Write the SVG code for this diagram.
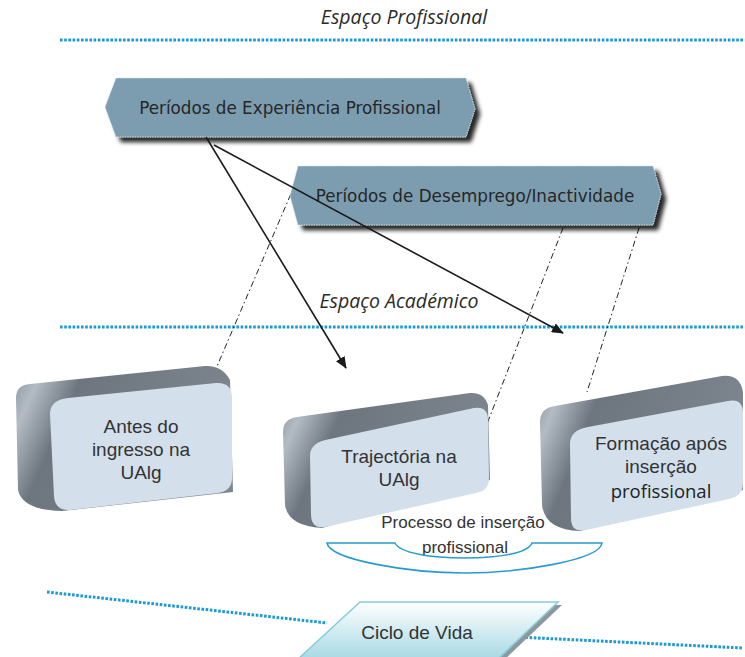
<svg xmlns="http://www.w3.org/2000/svg" width="745" height="657" viewBox="0 0 745 657">
<style>
.dot{fill:none;stroke:#1a9ad6;stroke-width:3;stroke-dasharray:2.6 1.6}
.hex{fill:#7b9db0;stroke:#d8e2e8;stroke-width:0.8;stroke-dasharray:1.5 1;filter:url(#sh)}
.hext{font-family:"DejaVu Sans",Verdana,sans-serif;font-size:16.8px;fill:#262626;text-anchor:middle}
.ital{font-family:"Open Sans",sans-serif;font-style:italic;font-size:19.5px;fill:#2a2a2a;text-anchor:middle}
.arr{stroke:#1a1a1a;stroke-width:1.6;fill:none;marker-end:url(#ah)}
.dd{stroke:#222;stroke-width:1;fill:none;stroke-dasharray:6 3 1.5 3}
.side{fill:url(#gray)}
.front{fill:#d3e0eb}
.bt{font-family:"Liberation Sans",Arial,sans-serif;font-size:19px;fill:#333;text-anchor:middle}
.bt2{font-family:"Open Sans",sans-serif;font-size:18.5px;fill:#222;text-anchor:middle}
.pt{font-family:"Liberation Sans",Arial,sans-serif;font-size:17px;fill:#333;text-anchor:middle}
</style>
<defs>
<filter id="sh" x="-10%" y="-30%" width="125%" height="170%">
<feDropShadow dx="5" dy="5" stdDeviation="2.2" flood-color="#000" flood-opacity="0.85"/>
</filter>
<linearGradient id="gray" x1="0" y1="0" x2="1" y2="0.3">
<stop offset="0" stop-color="#8a939b"/>
<stop offset="0.12" stop-color="#b3bcc4"/>
<stop offset="0.3" stop-color="#6d767f"/>
<stop offset="1" stop-color="#7d868e"/>
</linearGradient>
<linearGradient id="cyc" x1="0" y1="0" x2="0" y2="1">
<stop offset="0" stop-color="#ffffff"/>
<stop offset="1" stop-color="#a5d8e3"/>
</linearGradient>
<marker id="ah" viewBox="0 0 12 10" refX="11" refY="5" markerWidth="12" markerHeight="10" markerUnits="userSpaceOnUse" orient="auto">
<path d="M0,0 L12,5 L0,10 Z" fill="#1a1a1a"/>
</marker>
</defs>

<g id="labels">
<text class="ital" x="404" y="24">Espaço Profissional</text>
<line class="dot" x1="60" y1="40" x2="743" y2="40"/>
<text class="ital" x="399" y="308">Espaço Académico</text>
<line class="dot" x1="60" y1="327" x2="743" y2="327"/>
</g>

<g id="connectors">
<line class="dd" x1="296" y1="182" x2="212" y2="378"/>
<line class="dd" x1="563" y1="228" x2="487" y2="424"/>
<line class="dd" x1="639" y1="228" x2="587" y2="392"/>
</g>

<g id="exp">
<path class="hex" d="M105,107 L116,78 L466,78 L475,109 L466,137 L116,137 Z"/>
<text class="hext" x="290" y="114">Períodos de Experiência Profissional</text>
</g>

<g id="desemp">
<path class="hex" d="M290,196 L298,166 L653,166 L661,194 L653,225 L298,225 Z"/>
<text class="hext" x="475" y="202">Períodos de Desemprego/Inactividade</text>
</g>

<g id="arrows">
<line class="arr" x1="206" y1="137" x2="346" y2="368"/>
<line class="arr" x1="214" y1="145" x2="563" y2="333"/>
</g>

<g id="antes">
<path class="side" d="M16,398 Q16,385 30,384 L205,366 Q222,365 230,380 L233,492 L62,511 Q22,510 18,490 Z"/>
<path class="front" d="M68,398 L216,383 Q232,382 232,398 L232,478 Q232,491 218,493 L70,510 Q55,511 54,496 L50,414 Q50,400 68,398 Z"/>
<text class="bt" x="141" y="433">Antes do</text>
<text class="bt" x="141" y="456">ingresso na</text>
<text class="bt" x="141" y="479">UAlg</text>
</g>

<g id="traj">
<path class="side" d="M283,432 Q283,419 297,417 L470,393 Q484,392 488,405 L490,480 L322,528 Q288,526 285,505 Z"/>
<path class="front" d="M330,439 L474,408 Q488,406 488,420 L489,478 Q489,491 476,493 L325,527 Q311,529 311,514 L310,456 Q310,442 330,439 Z"/>
<text class="bt" x="399" y="463">Trajectória na</text>
<text class="bt" x="399" y="486">UAlg</text>
</g>

<g id="formacao">
<path class="side" d="M540,422 Q540,408 555,406 L722,376 Q740,374 743,392 L743,490 L580,531 Q545,530 542,505 Z"/>
<path class="front" d="M588,427 L728,401 Q743,398 743,413 L743,483 Q743,496 729,499 L586,530 Q571,533 571,518 L570,444 Q570,430 588,427 Z"/>
<text class="bt" x="661" y="450">Formação após</text>
<text class="bt" x="661" y="473">inserção</text>
<text class="bt2" x="661" y="498">profissional</text>
</g>

<g id="processo">
<text class="pt" x="463" y="528">Processo de inserção</text>
<text class="pt" x="465" y="553">profissional</text>
<path d="M327,543 L395,543 C400,553 430,558 465,558 C500,558 528,553 532,543 L602,543 C600,560 520,573 465,573 C410,573 330,560 327,543 Z" fill="none" stroke="#2a9bd0" stroke-width="1.6"/>
</g>

<g id="ciclo">
<line class="dot" x1="47" y1="592" x2="327" y2="623"/>
<line class="dot" x1="517" y1="637" x2="743" y2="648"/>
<path d="M363,605 L562,605 L501,663 L300,663 Z" fill="#8e979e"/>
<path d="M360,602 L558,602 L497,660 L297,660 Z" fill="url(#cyc)" stroke="#86ccd9" stroke-width="1.5"/>
<text class="bt" x="417" y="639">Ciclo de Vida</text>
</g>
</svg>
